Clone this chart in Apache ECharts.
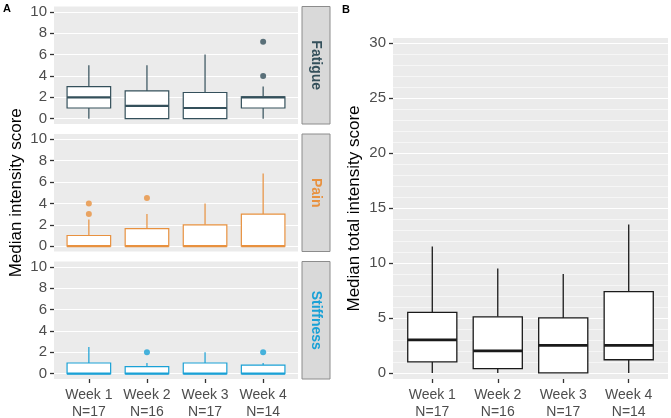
<!DOCTYPE html>
<html>
<head>
<meta charset="utf-8">
<script src="https://cdn.jsdelivr.net/npm/echarts@6/dist/echarts.min.js"></script>
<style>
  html, body { margin: 0; padding: 0; background: #fff; }
  #chart { width: 671px; height: 418px; }
</style>
</head>
<body>
<div id="chart"></div>
<script>
// categories
const weeks = ['Week 1\nN=17', 'Week 2\nN=16', 'Week 3\nN=17', 'Week 4\nN=14'];
const weekPos = [1, 2, 3, 4];
const symptoms = ['Fatigue', 'Pain', 'Stiffness'];
const symptomColors = ['#34505b', '#e8913f', '#1aa1d6'];

// box stats per week: [lower whisker, Q1, median, Q3, upper whisker]
const fatigueBox = [[0, 1, 2, 3, 5], [0, 0, 1.2, 2.6, 5], [0, 0, 1, 2.45, 6], [0, 1, 2, 2.05, 3]];
const painBox = [[0, 0, 0, 1, 2.5], [0, 0, 0, 1.65, 3], [0, 0, 0, 2, 4], [0, 0, 0, 3, 6.8]];
const stiffnessBox = [[0, 0, 0, 1, 2.5], [0, 0, 0, 0.65, 1], [0, 0, 0, 1, 2], [0, 0, 0, 0.8, 1]];
const totalBox = [[0, 1, 3, 5.5, 11.5], [0, 0.4, 2, 5.1, 9.5], [0, 0, 2.5, 5, 9], [0, 1.2, 2.5, 7.4, 13.5]];

// outliers: [week position, value]
const fatigueOut = [[4, 4], [4, 7.2]];
const painOut = [[1, 3], [1, 4], [2, 4.5]];
const stiffnessOut = [[2, 2], [4, 2]];

// tick labels
const yTicksA = [0, 2, 4, 6, 8, 10];
const yTicksB = [0, 5, 10, 15, 20, 25, 30];
const yMinorB = [1, 2, 3, 4, 6, 7, 8, 9, 11, 12, 13, 14, 16, 17, 18, 19, 21, 22, 23, 24, 26, 27, 28, 29];

const boxSets = [fatigueBox, painBox, stiffnessBox];
const outSets = [fatigueOut, painOut, stiffnessOut];

// layout
const A = { left: 54, width: 244, tops: [6.5, 134, 261.5], height: 117.5 };
const B = { left: 393, width: 275, top: 38, height: 341 };
const axisGrey = '#4d4d4d';
const tickStyle = { color: '#333', width: 1.3 };

function boxRenderer(color, lw, medW) {
  return function (params, api) {
    const x = api.value(0);
    const lo = api.coord([x, api.value(1)]);
    const q1 = api.coord([x, api.value(2)]);
    const md = api.coord([x, api.value(3)]);
    const q3 = api.coord([x, api.value(4)]);
    const hi = api.coord([x, api.value(5)]);
    const hw = api.size([0.75, 0])[0] / 2;
    const cx = lo[0];
    const st = { stroke: color, lineWidth: lw, fill: null };
    return {
      type: 'group',
      children: [
        { type: 'line', shape: { x1: cx, y1: q3[1], x2: cx, y2: hi[1] }, style: st },
        { type: 'line', shape: { x1: cx, y1: lo[1], x2: cx, y2: q1[1] }, style: st },
        { type: 'rect', shape: { x: cx - hw, y: q3[1], width: hw * 2, height: q1[1] - q3[1] },
          style: { stroke: color, lineWidth: lw, fill: '#fff' } },
        { type: 'line', shape: { x1: cx - hw, y1: md[1], x2: cx + hw, y2: md[1] },
          style: { stroke: color, lineWidth: medW } }
      ]
    };
  };
}

function boxData(stats) {
  return stats.map((s, i) => [weekPos[i]].concat(s));
}

const grids = [], xAxes = [], yAxes = [], series = [], graphics = [];

A.tops.forEach((top, k) => {
  grids.push({ left: A.left, top: top, width: A.width, height: A.height,
    outerBoundsMode: 'none', containLabel: false,
    show: true, backgroundColor: '#ebebeb', borderWidth: 0 });
  const last = k === 2;
  xAxes.push({
    gridIndex: k, type: 'value', min: 0.4, max: 4.6,
    axisLine: { show: false, onZero: false },
    axisTick: { show: last, customValues: weekPos, length: 4, lineStyle: tickStyle },
    axisLabel: { show: last, customValues: weekPos, formatter: v => weeks[v - 1],
      color: axisGrey, fontSize: 14, lineHeight: 16.5, margin: 8, fontFamily: 'Liberation Sans' },
    splitLine: { show: false }
  });
  yAxes.push({
    gridIndex: k, type: 'value', min: -0.5, max: 10.5,
    name: k === 1 ? 'Median intensity score' : '',
    nameLocation: 'middle', nameGap: 29,
    nameTextStyle: { color: '#000', fontSize: 17, fontFamily: 'Liberation Sans' },
    axisLine: { show: false, onZero: false },
    axisTick: { show: true, customValues: yTicksA, length: 4, lineStyle: tickStyle },
    axisLabel: { customValues: yTicksA, color: axisGrey, fontSize: 15, margin: 7, fontFamily: 'Liberation Sans' },
    splitLine: { show: true, lineStyle: { color: '#fff', width: 1.2 } }
  });
  series.push({
    type: 'custom', xAxisIndex: k, yAxisIndex: k,
    renderItem: boxRenderer(symptomColors[k], 1.2, 2.2),
    data: boxData(boxSets[k]), z: 3
  });
  series.push({
    type: 'scatter', xAxisIndex: k, yAxisIndex: k, symbolSize: 6,
    itemStyle: { color: symptomColors[k] }, data: outSets[k], z: 4
  });
  // facet strip
  graphics.push({
    type: 'rect', shape: { x: A.left + A.width + 4, y: top, width: 28, height: A.height },
    style: { fill: '#d9d9d9', stroke: '#8c8c8c', lineWidth: 1 }
  });
  graphics.push({
    type: 'text', x: A.left + A.width + 4 + 14, y: top + A.height / 2, rotation: -Math.PI / 2,
    style: { text: symptoms[k], fill: symptomColors[k], font: 'bold 14px "Liberation Sans"',
      align: 'center', verticalAlign: 'middle' }
  });
});

// panel B
grids.push({ left: B.left, top: B.top, width: B.width, height: B.height,
  outerBoundsMode: 'none', containLabel: false,
  show: true, backgroundColor: '#ebebeb', borderWidth: 0 });
xAxes.push({
  gridIndex: 3, type: 'value', min: 0.4, max: 4.6,
  axisLine: { show: false, onZero: false },
  axisTick: { show: true, customValues: weekPos, length: 4, lineStyle: tickStyle },
  axisLabel: { customValues: weekPos, formatter: v => weeks[v - 1],
    color: axisGrey, fontSize: 14, lineHeight: 16.5, margin: 8, fontFamily: 'Liberation Sans' },
  splitLine: { show: false }
});
yAxes.push({
  gridIndex: 3, type: 'value', min: -0.55, max: 30.45,
  name: 'Median total intensity score', nameLocation: 'middle', nameGap: 30,
  nameTextStyle: { color: '#000', fontSize: 17, fontFamily: 'Liberation Sans' },
  axisLine: { show: false, onZero: false },
  axisTick: { show: true, customValues: yTicksB, length: 4, lineStyle: tickStyle },
  axisLabel: { customValues: yTicksB, color: axisGrey, fontSize: 15, margin: 7, fontFamily: 'Liberation Sans' },
  splitLine: { show: true, lineStyle: { color: '#fff', width: 1.2 } }
});
// minor grid lines, kept under the boxes
series.push({
  type: 'line', xAxisIndex: 3, yAxisIndex: 3, data: [], z: 1,
  markLine: {
    z: 1, silent: true, symbol: 'none', label: { show: false },
    lineStyle: { color: '#fff', width: 0.6, type: 'solid', opacity: 0.9 },
    data: yMinorB.map(v => ({ yAxis: v }))
  }
});
series.push({
  type: 'custom', xAxisIndex: 3, yAxisIndex: 3,
  renderItem: boxRenderer('#1a1a1a', 1.3, 2.8),
  data: boxData(totalBox), z: 6
});

graphics.push({ type: 'text', x: 3, y: 3,
  style: { text: 'A', font: 'bold 11px "Liberation Sans"', fill: '#000' } });
graphics.push({ type: 'text', x: 342, y: 4,
  style: { text: 'B', font: 'bold 11px "Liberation Sans"', fill: '#000' } });

const chart = echarts.init(document.getElementById('chart'), null, { renderer: 'canvas' });
chart.setOption({
  animation: false,
  backgroundColor: '#fff',
  grid: grids,
  xAxis: xAxes,
  yAxis: yAxes,
  series: series,
  graphic: graphics
});
</script>
</body>
</html>
